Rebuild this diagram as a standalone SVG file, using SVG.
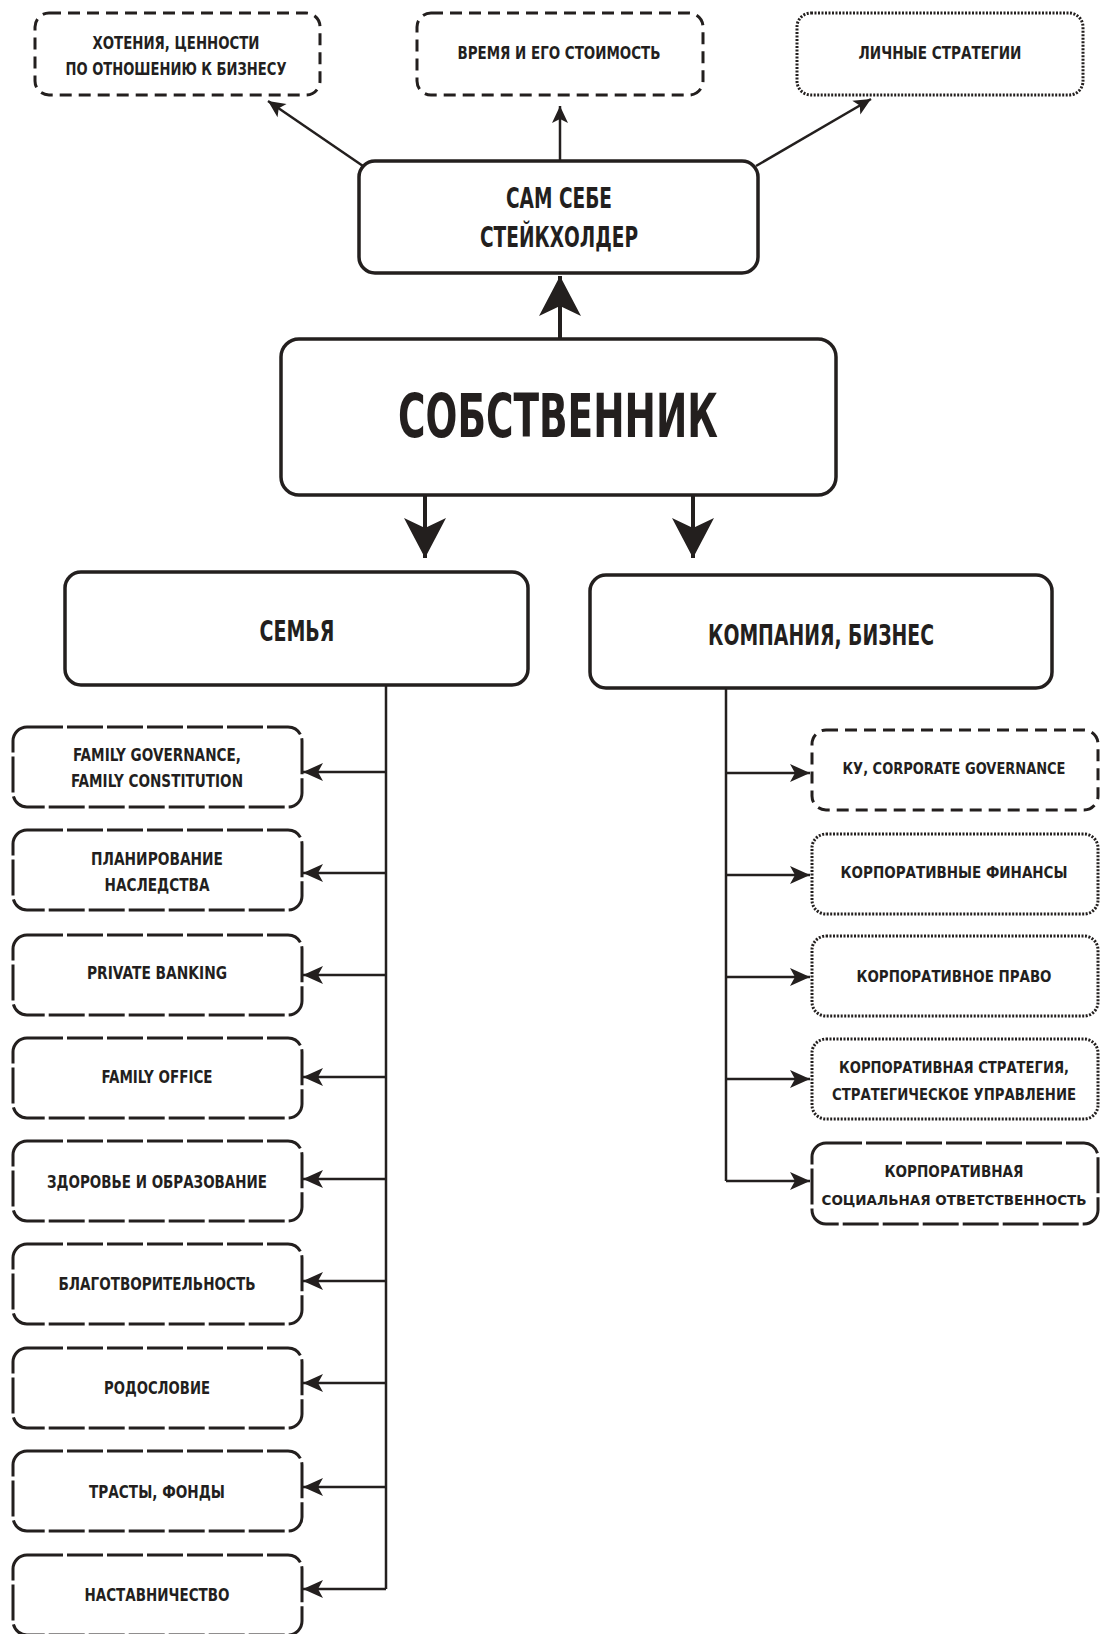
<svg xmlns="http://www.w3.org/2000/svg" width="1100" height="1634" viewBox="0 0 1100 1634">
<style>
text{font-family:"Liberation Sans Narrow","DejaVu Sans Condensed","Liberation Sans",sans-serif;font-weight:bold;fill:#231f1e;text-anchor:middle}
.main{fill:#fff;stroke:#231f1e;stroke-width:3.5}
.dash{fill:#fff;stroke:#231f1e;stroke-width:3;stroke-dasharray:12 7}
.dot{fill:#fff;stroke:#231f1e;stroke-width:3;stroke-dasharray:2 1.5}
.long{fill:#fff;stroke:#231f1e;stroke-width:3;stroke-dasharray:36 4}
.s{font-size:18px}
.r{font-size:16px}
.m{font-size:28px}
.conn{stroke:#231f1e;stroke-width:2.5;fill:none}
.big{stroke:#231f1e;stroke-width:4;fill:none}
</style>
<defs>
<marker id="ah" markerUnits="userSpaceOnUse" viewBox="-1 -10 23 20" refX="20" refY="0" markerWidth="23" markerHeight="20" orient="auto">
<path d="M0,-9 L20,0 L0,9 L5,0 z" fill="#231f1e"/>
</marker>
<marker id="ahs" markerUnits="userSpaceOnUse" viewBox="-1 -9 20 18" refX="17" refY="0" markerWidth="20" markerHeight="18" orient="auto">
<path d="M0,-8 L17,0 L0,8 L4,0 z" fill="#231f1e"/>
</marker>
<marker id="ahb" markerUnits="userSpaceOnUse" viewBox="-1 -23 42 46" refX="40" refY="0" markerWidth="42" markerHeight="46" orient="auto">
<path d="M0,-21 L40,0 L0,21 L10,0 z" fill="#231f1e"/>
</marker>
</defs>

<g id="connectors">
<line class="conn" x1="363" y1="166" x2="268" y2="101" marker-end="url(#ahs)"/>
<line class="conn" x1="560" y1="161" x2="560" y2="106" marker-end="url(#ahs)"/>
<line class="conn" x1="756" y1="166" x2="871" y2="99" marker-end="url(#ahs)"/>
<line class="big" x1="560" y1="339" x2="560" y2="276" marker-end="url(#ahb)"/>
<line class="big" x1="425" y1="495" x2="425" y2="558" marker-end="url(#ahb)"/>
<line class="big" x1="693" y1="495" x2="693" y2="558" marker-end="url(#ahb)"/>
<path class="conn" d="M386,685 V1589"/>
<line class="conn" x1="386" y1="772" x2="303" y2="772" marker-end="url(#ah)"/>
<line class="conn" x1="386" y1="873" x2="303" y2="873" marker-end="url(#ah)"/>
<line class="conn" x1="386" y1="975" x2="303" y2="975" marker-end="url(#ah)"/>
<line class="conn" x1="386" y1="1077" x2="303" y2="1077" marker-end="url(#ah)"/>
<line class="conn" x1="386" y1="1179" x2="303" y2="1179" marker-end="url(#ah)"/>
<line class="conn" x1="386" y1="1281" x2="303" y2="1281" marker-end="url(#ah)"/>
<line class="conn" x1="386" y1="1383" x2="303" y2="1383" marker-end="url(#ah)"/>
<line class="conn" x1="386" y1="1487" x2="303" y2="1487" marker-end="url(#ah)"/>
<line class="conn" x1="386" y1="1589" x2="303" y2="1589" marker-end="url(#ah)"/>
<path class="conn" d="M726,688 V1181"/>
<line class="conn" x1="726" y1="773" x2="810" y2="773" marker-end="url(#ah)"/>
<line class="conn" x1="726" y1="875" x2="810" y2="875" marker-end="url(#ah)"/>
<line class="conn" x1="726" y1="977" x2="810" y2="977" marker-end="url(#ah)"/>
<line class="conn" x1="726" y1="1079" x2="810" y2="1079" marker-end="url(#ah)"/>
<line class="conn" x1="726" y1="1181" x2="810" y2="1181" marker-end="url(#ah)"/>
</g>

<g id="wants"><rect class="dash" x="35" y="13" width="285" height="82" rx="14"/>
<text class="s" x="176" y="49" textLength="167" lengthAdjust="spacingAndGlyphs">ХОТЕНИЯ, ЦЕННОСТИ</text>
<text class="s" x="176" y="75" textLength="221" lengthAdjust="spacingAndGlyphs">ПО ОТНОШЕНИЮ К БИЗНЕСУ</text></g>
<g id="time"><rect class="dash" x="417" y="13" width="286" height="82" rx="14"/>
<text class="s" x="559" y="59" textLength="203" lengthAdjust="spacingAndGlyphs">ВРЕМЯ И ЕГО СТОИМОСТЬ</text></g>
<g id="strategies"><rect class="dot" x="797" y="13" width="286" height="82" rx="14"/>
<text class="s" x="940" y="59" textLength="163" lengthAdjust="spacingAndGlyphs">ЛИЧНЫЕ СТРАТЕГИИ</text></g>

<g id="self"><rect class="main" x="359" y="161" width="399" height="112" rx="16"/>
<text class="m" x="559" y="208" textLength="106" lengthAdjust="spacingAndGlyphs">САМ СЕБЕ</text>
<text class="m" x="559" y="247" textLength="158" lengthAdjust="spacingAndGlyphs">СТЕЙКХОЛДЕР</text></g>

<g id="owner"><rect class="main" x="281" y="339" width="555" height="156" rx="18"/>
<text x="558" y="437" style="font-size:60px" textLength="320" lengthAdjust="spacingAndGlyphs">СОБСТВЕННИК</text></g>

<g id="family"><rect class="main" x="65" y="572" width="463" height="113" rx="16"/>
<text class="m" x="297" y="641" textLength="75" lengthAdjust="spacingAndGlyphs">СЕМЬЯ</text></g>
<g id="company"><rect class="main" x="590" y="575" width="462" height="113" rx="16"/>
<text class="m" x="821" y="645" textLength="226" lengthAdjust="spacingAndGlyphs">КОМПАНИЯ, БИЗНЕС</text></g>

<g id="f1"><rect class="long" x="13" y="727" width="289" height="80" rx="14"/>
<text class="s" x="157" y="761" textLength="168" lengthAdjust="spacingAndGlyphs">FAMILY GOVERNANCE,</text>
<text class="s" x="157" y="787" textLength="172" lengthAdjust="spacingAndGlyphs">FAMILY CONSTITUTION</text></g>
<g id="f2"><rect class="long" x="13" y="830" width="289" height="80" rx="14"/>
<text class="s" x="157" y="865" textLength="132" lengthAdjust="spacingAndGlyphs">ПЛАНИРОВАНИЕ</text>
<text class="s" x="157" y="891" textLength="105" lengthAdjust="spacingAndGlyphs">НАСЛЕДСТВА</text></g>
<g id="f3"><rect class="long" x="13" y="935" width="289" height="80" rx="14"/>
<text class="s" x="157" y="979" textLength="140" lengthAdjust="spacingAndGlyphs">PRIVATE BANKING</text></g>
<g id="f4"><rect class="long" x="13" y="1038" width="289" height="80" rx="14"/>
<text class="s" x="157" y="1083" textLength="111" lengthAdjust="spacingAndGlyphs">FAMILY OFFICE</text></g>
<g id="f5"><rect class="long" x="13" y="1141" width="289" height="80" rx="14"/>
<text class="s" x="157" y="1188" textLength="220" lengthAdjust="spacingAndGlyphs">ЗДОРОВЬЕ И ОБРАЗОВАНИЕ</text></g>
<g id="f6"><rect class="long" x="13" y="1244" width="289" height="80" rx="14"/>
<text class="s" x="157" y="1290" textLength="197" lengthAdjust="spacingAndGlyphs">БЛАГОТВОРИТЕЛЬНОСТЬ</text></g>
<g id="f7"><rect class="long" x="13" y="1348" width="289" height="80" rx="14"/>
<text class="s" x="157" y="1394" textLength="106" lengthAdjust="spacingAndGlyphs">РОДОСЛОВИЕ</text></g>
<g id="f8"><rect class="long" x="13" y="1451" width="289" height="80" rx="14"/>
<text class="s" x="157" y="1498" textLength="136" lengthAdjust="spacingAndGlyphs">ТРАСТЫ, ФОНДЫ</text></g>
<g id="f9"><rect class="long" x="13" y="1555" width="289" height="80" rx="14"/>
<text class="s" x="157" y="1601" textLength="145" lengthAdjust="spacingAndGlyphs">НАСТАВНИЧЕСТВО</text></g>

<g id="c1"><rect class="dash" x="812" y="730" width="286" height="80" rx="14"/>
<text class="r" x="954" y="774" textLength="223" lengthAdjust="spacingAndGlyphs">КУ, CORPORATE GOVERNANCE</text></g>
<g id="c2"><rect class="dot" x="812" y="834" width="286" height="80" rx="14"/>
<text class="r" x="954" y="878" textLength="227" lengthAdjust="spacingAndGlyphs">КОРПОРАТИВНЫЕ ФИНАНСЫ</text></g>
<g id="c3"><rect class="dot" x="812" y="936" width="286" height="80" rx="14"/>
<text class="r" x="954" y="982" textLength="195" lengthAdjust="spacingAndGlyphs">КОРПОРАТИВНОЕ ПРАВО</text></g>
<g id="c4"><rect class="dot" x="812" y="1039" width="286" height="80" rx="14"/>
<text class="r" x="954" y="1073" textLength="230" lengthAdjust="spacingAndGlyphs">КОРПОРАТИВНАЯ СТРАТЕГИЯ,</text>
<text class="r" x="954" y="1100" textLength="244" lengthAdjust="spacingAndGlyphs">СТРАТЕГИЧЕСКОЕ УПРАВЛЕНИЕ</text></g>
<g id="c5"><rect class="long" x="812" y="1143" width="286" height="81" rx="14"/>
<text class="r" x="954" y="1177" textLength="139" lengthAdjust="spacingAndGlyphs">КОРПОРАТИВНАЯ</text>
<text x="954" y="1205" style="font-size:14px" textLength="265" lengthAdjust="spacingAndGlyphs">СОЦИАЛЬНАЯ ОТВЕТСТВЕННОСТЬ</text></g>
</svg>
